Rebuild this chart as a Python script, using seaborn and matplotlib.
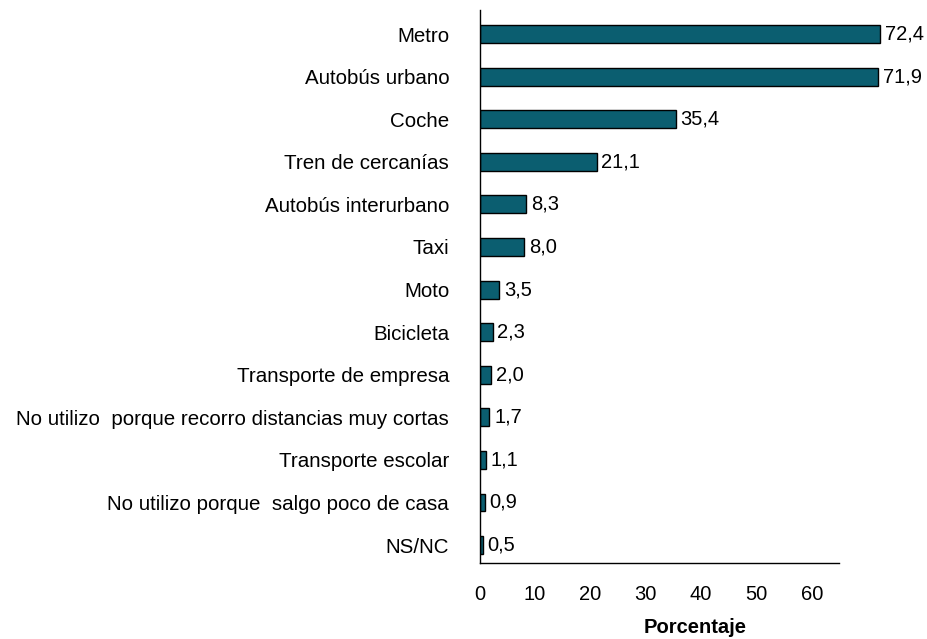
import pandas as pd
import matplotlib
matplotlib.use('Agg')
import matplotlib.pyplot as plt
import seaborn as sns

# categories and values (percent)
categories = ['Metro', 'Autobús urbano', 'Coche', 'Tren de cercanías',
              'Autobús interurbano', 'Taxi', 'Moto', 'Bicicleta',
              'Transporte de empresa',
              'No utilizo  porque recorro distancias muy cortas',
              'Transporte escolar', 'No utilizo porque  salgo poco de casa',
              'NS/NC']
values = [72.4, 71.9, 35.4, 21.1, 8.3, 8.0, 3.5, 2.3, 2.0, 1.7, 1.1, 0.9, 0.5]
xticks = [0, 10, 20, 30, 40, 50, 60]

df = pd.DataFrame({'medio': categories, 'pct': values})

sns.set_style('white')
plt.rcParams['font.family'] = ['Liberation Sans', 'DejaVu Sans']
plt.rcParams['text.color'] = 'black'

fig = plt.figure(figsize=(9.28, 6.39), dpi=100)
ax = fig.add_axes([0.517, 0.119, 0.465, 0.865])

sns.barplot(data=df, x='pct', y='medio', orient='h', color='#0B5E70',
            saturation=1, width=0.42, edgecolor='black', linewidth=1, ax=ax)

# value labels with comma decimal
for i, v in enumerate(values):
    ax.text(v + 0.9, i, f'{v:.1f}'.replace('.', ','), va='center', ha='left',
            fontsize=14.5, color='black', clip_on=False)

ax.set_xlim(0, 78)
ax.set_ylim(len(categories) - 0.58, -0.56)
ax.set_xticks(xticks)
ax.spines['top'].set_visible(False)
ax.spines['right'].set_visible(False)
ax.spines['bottom'].set_bounds(0, 65)
for s in ['left', 'bottom']:
    ax.spines[s].set_color('black')
    ax.spines[s].set_linewidth(1)

ax.tick_params(axis='x', direction='in', length=5, width=1, pad=16,
               labelsize=14.5, colors='black')
ax.tick_params(axis='y', length=0, pad=22, labelsize=14.8, colors='black')
ax.set_ylabel('')
ax.set_xlabel('Porcentaje', fontsize=14.5, fontweight='bold', labelpad=10,
              color='black')

fig.savefig('out.png', dpi=100)
